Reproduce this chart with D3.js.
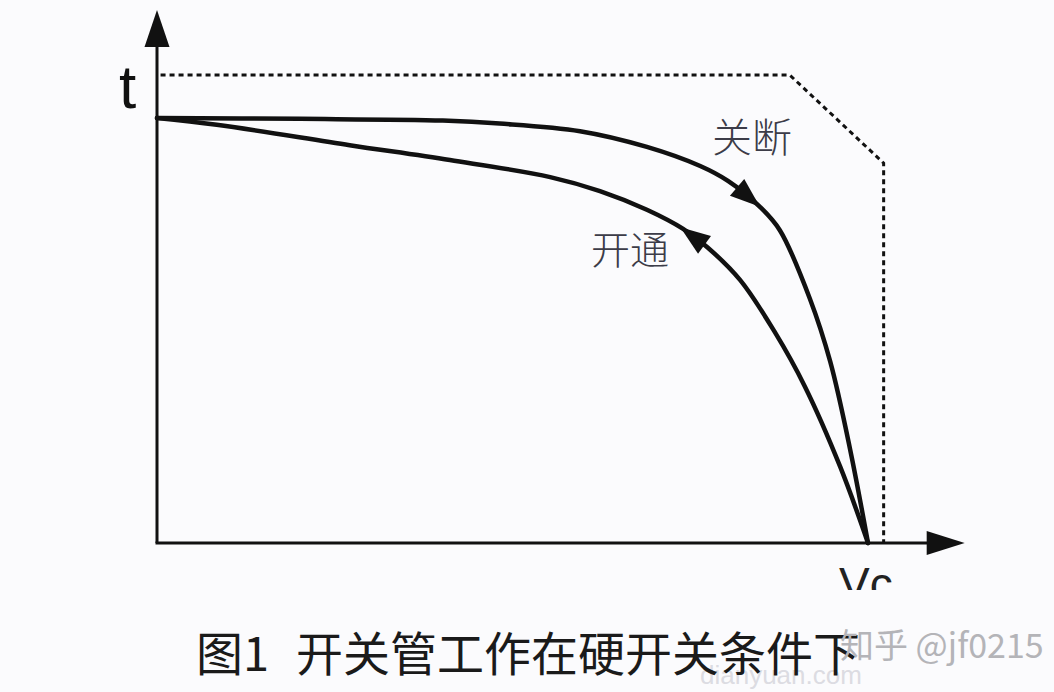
<!DOCTYPE html>
<html>
<head>
<meta charset="utf-8">
<script src="https://cdn.jsdelivr.net/npm/d3@7/dist/d3.min.js"></script>
<style>
  html, body { margin: 0; padding: 0; background: #fbfbfd; }
  svg { display: block; }
</style>
</head>
<body>
<svg id="chart" width="1054" height="692"></svg>
<script>
// ---- data (Vc as % of Vc, current as % of load current) ----
const turnOffVc = [0, 20.1, 40.2, 48.2, 59.5, 68.9, 76.4, 80.3, 84.8, 87.6, 91.8, 94.7, 97.5, 100];
const turnOffI  = [100, 99.8, 99.4, 98.7, 96.9, 93.2, 88.7, 85.2, 79.1, 73.6, 57.6, 42.6, 21.9, 0];
const turnOnVc  = [0, 8.4, 27.1, 41.2, 55.3, 62.3, 68.9, 74.0, 77.4, 82.0, 86.9, 91.1, 96.1, 100];
const turnOnI   = [100, 98.4, 93.6, 90.1, 86.1, 82.8, 78.4, 73.9, 69.6, 61.9, 49.6, 36.9, 17.9, 0];
const soaVc     = [0.5, 89.0, 102.2, 102.2];
const soaI      = [110.1, 110.1, 89.4, 0];
const curveLabels = ["关断", "开通"];
const arrowAt   = [84.8, 73.6];     // Vc where each direction arrow sits
const axisLabels = ["t", "Vc"];
const caption   = ["图1", "开关管工作在硬开关条件下"];
const watermark = "知乎 @jf0215";
const siteMark  = "dianyuan.com";

const svg = d3.select("#chart");
const x = d3.scaleLinear().domain([0, 100]).range([157, 868]);
const y = d3.scaleLinear().domain([0, 100]).range([543, 118]);
const xMax = 113.6, yMax = 125.4;

const ink = "#111";

// dashed safe operating boundary
const soa = soaVc.map((v, i) => [v, soaI[i]]);
svg.append("path")
  .attr("d", d3.line().x(d => x(d[0])).y(d => y(d[1]))(soa))
  .attr("fill", "none").attr("stroke", ink).attr("stroke-width", 3)
  .attr("stroke-dasharray", "5,4");

// axes
const axisG = svg.append("g");
axisG.append("line")
  .attr("x1", x(0)).attr("y1", y(0)).attr("x2", x(0)).attr("y2", y(yMax) + 36)
  .attr("stroke", ink).attr("stroke-width", 3);
axisG.append("line")
  .attr("x1", x(0) - 1.5).attr("y1", y(0)).attr("x2", x(xMax) - 36).attr("y2", y(0))
  .attr("stroke", ink).attr("stroke-width", 3);
axisG.append("path")
  .attr("d", `M${x(0)},${y(yMax)} L${x(0) - 12.5},${y(yMax) + 37} L${x(0) + 12.5},${y(yMax) + 37} Z`)
  .attr("fill", ink);
axisG.append("path")
  .attr("d", `M${x(xMax)},${y(0)} L${x(xMax) - 38},${y(0) - 12} L${x(xMax) - 38},${y(0) + 12} Z`)
  .attr("fill", ink);

// curves
const line = d3.line().x(d => x(d[0])).y(d => y(d[1])).curve(d3.curveCatmullRom.alpha(0.5));
const series = [
  { pts: turnOffVc.map((v, i) => [v, turnOffI[i]]), dir: 1 },
  { pts: turnOnVc.map((v, i) => [v, turnOnI[i]]), dir: -1 }
];
series.forEach((s, k) => {
  const p = svg.append("path")
    .attr("d", line(s.pts))
    .attr("fill", "none").attr("stroke", ink).attr("stroke-width", 4.5)
    .attr("stroke-linecap", "round");
  const node = p.node();
  const total = node.getTotalLength();
  const tx = x(arrowAt[k]);
  let lo = 0, hi = total;
  for (let it = 0; it < 40; it++) {
    const mid = (lo + hi) / 2;
    if (node.getPointAtLength(mid).x < tx) lo = mid; else hi = mid;
  }
  const L = (lo + hi) / 2;
  const tip = node.getPointAtLength(L);
  const back = node.getPointAtLength(Math.max(0, Math.min(total, L - s.dir * 30)));
  const dx = tip.x - back.x, dy = tip.y - back.y;
  const len = Math.hypot(dx, dy);
  const nx = -dy / len, ny = dx / len;
  const hw = 11;
  svg.append("path")
    .attr("d", `M${tip.x},${tip.y} L${back.x + nx * hw},${back.y + ny * hw} L${back.x - nx * hw},${back.y - ny * hw} Z`)
    .attr("fill", ink);
});

// curve labels
const cjk = "'Noto Sans CJK SC', 'Noto Sans CJK JP', sans-serif";
svg.append("text").attr("x", 712).attr("y", 152)
  .attr("font-family", cjk).attr("font-weight", 300).attr("font-size", 40)
  .attr("fill", "#3c3c48").text(curveLabels[0]);
svg.append("text").attr("x", 591).attr("y", 264)
  .attr("font-family", cjk).attr("font-weight", 300).attr("font-size", 39)
  .attr("fill", "#3c3c48").text(curveLabels[1]);

// axis labels
svg.append("text").attr("x", 119).attr("y", 108)
  .attr("font-family", "'Liberation Sans', Arial, sans-serif").attr("font-size", 62)
  .attr("fill", ink).text(axisLabels[0]);
svg.append("clipPath").attr("id", "vcClip")
  .append("rect").attr("x", 800).attr("y", 550).attr("width", 150).attr("height", 40);
svg.append("text").attr("x", 839).attr("y", 600)
  .attr("clip-path", "url(#vcClip)")
  .attr("font-family", "'Liberation Sans', Arial, sans-serif").attr("font-size", 46)
  .attr("fill", "#222").text(axisLabels[1]);

// faint site watermark, caption and zhihu watermark
svg.append("text").attr("x", 700).attr("y", 684)
  .attr("font-family", "'Liberation Sans', Arial, sans-serif").attr("font-size", 26)
  .attr("fill", "#dcdce2").text(siteMark);
svg.append("text").attr("x", 196).attr("y", 671)
  .attr("font-family", cjk).attr("font-size", 47)
  .attr("fill", "#1a1a1a").text(caption[0]);
svg.append("text").attr("x", 296).attr("y", 671)
  .attr("font-family", cjk).attr("font-size", 47)
  .attr("fill", "#1a1a1a").text(caption[1]);
svg.append("text").attr("x", 840).attr("y", 658)
  .attr("font-family", cjk).attr("font-size", 34)
  .attr("fill", "#b4b4b8").text(watermark);
</script>
</body>
</html>
